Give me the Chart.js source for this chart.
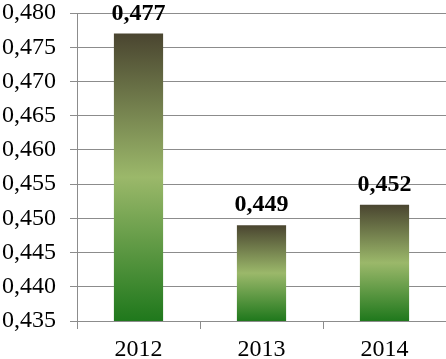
<!DOCTYPE html>
<html>
<head>
<meta charset="utf-8">
<script src="https://cdn.jsdelivr.net/npm/chart.js@4/dist/chart.umd.min.js"></script>
<style>
  html, body { margin: 0; padding: 0; background: #fff; }
  #wrap { width: 446px; height: 359px; }
</style>
</head>
<body>
<div id="wrap"><canvas id="chart"></canvas></div>
<script>
// Values
const years = ['2012', '2013', '2014'];
const values = [0.477, 0.449, 0.452];
const yMin = 0.435;
const yMax = 0.480;
const yStep = 0.005;

const fmt = (v) => v.toFixed(3).replace('.', ',');

// Per-bar vertical gradient: dark olive top, pale green middle, green bottom
function barGradient(context) {
  const chart = context.chart;
  if (!chart.chartArea || !chart.scales.y) return '#8aa860';
  const y = chart.scales.y;
  const top = y.getPixelForValue(values[context.dataIndex]);
  const bottom = y.getPixelForValue(yMin);
  const g = chart.ctx.createLinearGradient(0, top, 0, bottom);
  g.addColorStop(0, '#4a4530');
  g.addColorStop(0.5, '#9bb86a');
  g.addColorStop(1, '#1f781c');
  return g;
}

// Bold value labels above each bar
const valueLabels = {
  id: 'valueLabels',
  afterDatasetsDraw(chart) {
    const ctx = chart.ctx;
    const meta = chart.getDatasetMeta(0);
    ctx.save();
    ctx.font = 'bold 24px "Liberation Serif"';
    ctx.fillStyle = '#000';
    ctx.textAlign = 'center';
    ctx.textBaseline = 'alphabetic';
    meta.data.forEach((bar, i) => {
      ctx.fillText(fmt(values[i]), bar.x, bar.y - 14);
    });
    ctx.restore();
  },
};

new Chart(document.getElementById('chart'), {
  type: 'bar',
  data: {
    labels: years,
    datasets: [{
      data: values,
      backgroundColor: barGradient,
      borderWidth: 0,
      categoryPercentage: 1,
      barPercentage: 0.4,
    }],
  },
  options: {
    responsive: true,
    maintainAspectRatio: false,
    animation: false,
    layout: { padding: { top: 13, right: 0, left: 0, bottom: 0 } },
    plugins: {
      legend: { display: false },
      tooltip: { enabled: false },
    },
    scales: {
      x: {
        grid: {
          offset: true,
          drawOnChartArea: false,
          color: '#8c8c8c',
          tickLength: 8,
        },
        border: { color: '#8c8c8c', width: 1 },
        ticks: {
          color: '#000',
          font: { family: 'Liberation Serif', size: 24 },
          padding: 6,
        },
        afterFit(scale) {
          scale.height = 38;
          scale.paddingLeft = 0;
          scale.paddingRight = 0;
        },
      },
      y: {
        min: yMin,
        max: yMax,
        grid: {
          color: '#8c8c8c',
          tickLength: 7,
        },
        border: { color: '#8c8c8c', width: 1 },
        ticks: {
          stepSize: yStep,
          color: '#000',
          font: { family: 'Liberation Serif', size: 24 },
          padding: 14,
          callback: (v) => fmt(v),
        },
        afterFit(scale) {
          scale.width = 77;
          scale.paddingTop = 0;
          scale.paddingBottom = 0;
        },
      },
    },
  },
  plugins: [valueLabels],
});
</script>
</body>
</html>
